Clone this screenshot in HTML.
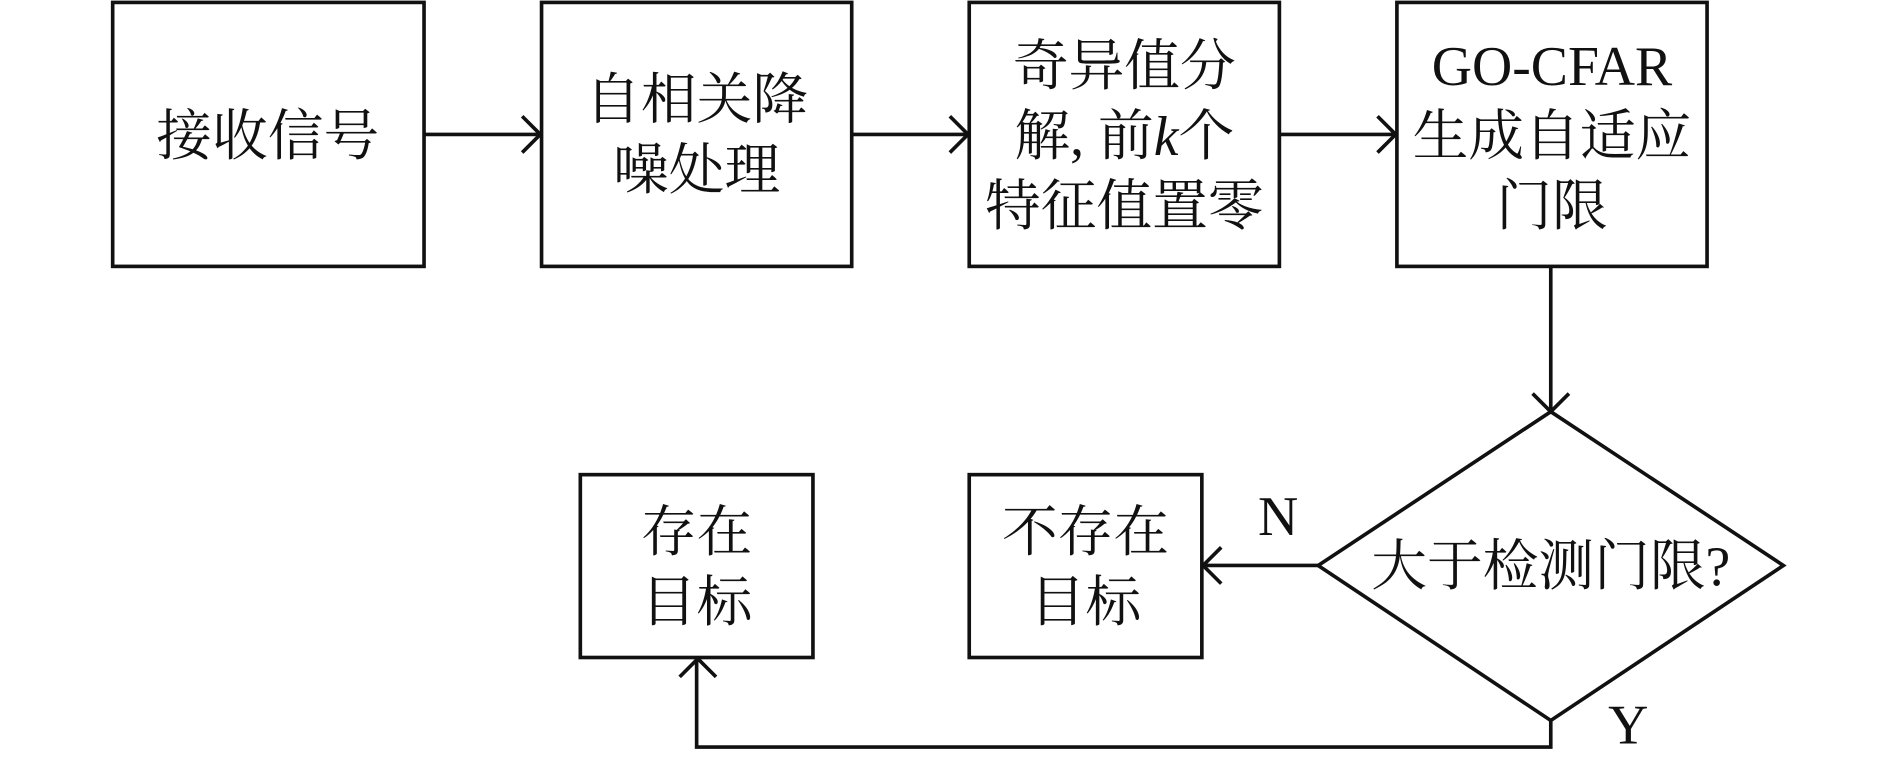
<!DOCTYPE html>
<html><head><meta charset="utf-8"><style>
html,body{margin:0;padding:0;background:#fff;}
svg{display:block;}
text{font-family:"Liberation Serif","Noto Serif CJK SC",serif;font-size:46px;fill:#111;}
</style></head><body>
<svg width="1890" height="758" viewBox="0 0 1560 626" preserveAspectRatio="none" xmlns="http://www.w3.org/2000/svg">
<g fill="none" stroke="#111" stroke-width="3">
<rect x="93" y="2" width="257" height="218"/>
<rect x="447" y="2" width="256" height="218"/>
<rect x="800" y="2" width="256" height="218"/>
<rect x="1153" y="2" width="256" height="218"/>
<rect x="800" y="392" width="192" height="151"/>
<rect x="479" y="392" width="192" height="151"/>
<polygon points="1280,340 1472,467 1280,595 1088,467"/>
<line x1="350" y1="111" x2="445" y2="111"/><polyline points="431,96 446,111 431,126"/>
<line x1="703" y1="111" x2="798" y2="111"/><polyline points="784,96 799,111 784,126"/>
<line x1="1056" y1="111" x2="1151" y2="111"/><polyline points="1137,96 1152,111 1137,126"/>
<line x1="1280" y1="220" x2="1280" y2="339"/><polyline points="1265,325 1280,340 1295,325"/>
<line x1="1088" y1="467" x2="994" y2="467"/><polyline points="1008,452 993,467 1008,482"/>
<polyline points="1280,595 1280,617 575,617 575,545"/><polyline points="561,559 576,544 591,559"/>
</g>
<g text-anchor="middle">
<text x="221" y="128">接收信号</text>
<text x="575" y="98">自相关降</text>
<text x="575" y="156">噪处理</text>
<text x="928" y="70">奇异值分</text>
<text x="928" y="128">解, 前<tspan font-style="italic">k</tspan>个</text>
<text x="928" y="186">特征值置零</text>
<text x="1281" y="70">GO-CFAR</text>
<text x="1281" y="128">生成自适应</text>
<text x="1281" y="186">门限</text>
<text x="896" y="455">不存在</text>
<text x="896" y="513">目标</text>
<text x="575" y="455">存在</text>
<text x="575" y="513">目标</text>
<text x="1280" y="483">大于检测门限?</text>
<text x="1055" y="442">N</text>
<text x="1344" y="614">Y</text>
</g>
</svg>
</body></html>
